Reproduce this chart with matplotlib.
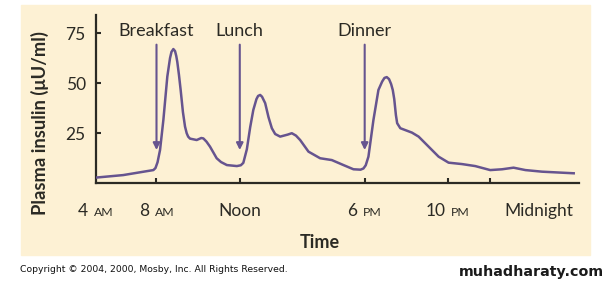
import matplotlib.pyplot as plt
from matplotlib.patches import Rectangle
from matplotlib.offsetbox import TextArea, HPacker, AnnotationBbox
import matplotlib.transforms as mtransforms

# sample data: plasma insulin over the day (hours, 24 = midnight)
hours = [5.04, 6.40, 7.85, 7.95, 8.05, 8.17, 8.33, 8.52, 8.65, 8.72, 8.81, 8.89,
         8.95, 9.00, 9.08, 9.16, 9.27, 9.37, 9.45, 9.52, 9.61, 9.93, 10.15, 10.25,
         10.40, 10.57, 10.89, 11.10, 11.38, 11.86, 12.05, 12.17, 12.34, 12.50,
         12.65, 12.80, 12.88, 12.98, 13.07, 13.22, 13.38, 13.54, 13.70, 13.94,
         14.30, 14.50, 14.70, 14.90, 15.30, 15.86, 16.42, 16.98, 17.46, 17.80,
         17.94, 18.05, 18.18, 18.42, 18.66, 18.84, 18.95, 19.06, 19.17, 19.27,
         19.35, 19.42, 19.50, 19.56, 19.71, 20.27, 20.59, 21.07, 21.55, 22.03,
         22.67, 23.31, 24.03, 24.60, 25.15, 25.72, 26.52, 28.04]
insulin = [2.8, 4.1, 6.6, 7.6, 10.5, 16.6, 31.6, 53.3, 62.5, 65.6, 67.0, 66.0,
           63.5, 60.5, 54.0, 46.6, 35.5, 28.3, 25.0, 23.3, 22.3, 21.6, 22.6, 22.4,
           20.8, 18.3, 12.5, 10.6, 9.1, 8.6, 9.0, 10.2, 17.0, 28.0,
           36.6, 42.0, 43.6, 44.1, 43.2, 40.0, 33.0, 27.5, 24.6, 23.3,
           24.3, 25.0, 23.8, 21.6, 15.8, 12.5, 11.6, 9.1, 7.0, 6.8,
           7.4, 9.0, 13.3, 31.6, 46.6, 50.8, 52.6, 53.0, 52.0, 49.5,
           46.5, 42.0, 34.0, 30.0, 27.5, 25.3, 23.3, 18.3, 13.3, 10.3,
           9.6, 8.6, 6.6, 7.0, 7.8, 6.6, 5.8, 5.0]

meals = ['Breakfast', 'Lunch', 'Dinner']
meal_hours = [8, 12, 18]

tick_hours = [8, 12, 18, 22, 24]
label_hours = [5.07, 8, 12, 18, 22, 26.36]
label_nums = ['4', '8', 'Noon', '6', '10', 'Midnight']
label_suffix = ['AM', 'AM', '', 'PM', 'PM', '']

y_ticks = [25, 50, 75]

line_col = '#66548f'
dark = '#2b2a24'
cream = '#fdf1d4'
font = ['Lato', 'DejaVu Sans']

fig = plt.figure(figsize=(6.1, 2.84), dpi=100)
# cream panel behind the chart
fig.patches.append(Rectangle((20.5 / 610, 29 / 284), 569.5 / 610, 250 / 284,
                             transform=fig.transFigure, color=cream, zorder=-10))

ax = fig.add_axes([95.5 / 610, 100.7 / 284, 483 / 610, 168.3 / 284])
ax.set_facecolor('none')
ax.plot(hours, insulin, color=line_col, lw=1.8, solid_joinstyle='round', zorder=3)
ax.set_xlim(5.07, 28.27)
ax.set_ylim(0, 84)

for s in ['top', 'right']:
    ax.spines[s].set_visible(False)
for s in ['left', 'bottom']:
    ax.spines[s].set_color(dark)
    ax.spines[s].set_linewidth(1.6)

# y ticks
ax.set_yticks(y_ticks)
ax.set_yticklabels([str(v) for v in y_ticks], family=font, fontsize=12.5, color=dark)
ax.tick_params(axis='y', direction='in', length=3.5, width=1.5, color=dark, pad=7)

# x tick marks, labels drawn separately
ax.set_xticks(tick_hours)
ax.set_xticklabels([])
ax.tick_params(axis='x', direction='in', length=3.8, width=1.5, color=dark)

trans = mtransforms.blended_transform_factory(ax.transData, ax.transAxes)
for h, num, suf in zip(label_hours, label_nums, label_suffix):
    parts = [TextArea(num, textprops=dict(family=font, fontsize=12.5, color=dark))]
    if suf:
        parts.append(TextArea(suf, textprops=dict(family=font, fontsize=8.8, color=dark)))
    box = HPacker(children=parts, align='baseline', pad=0, sep=4)
    ab = AnnotationBbox(box, (h, -0.165), xycoords=trans, box_alignment=(0.5, 0.5),
                        frameon=False, annotation_clip=False)
    ax.add_artist(ab)

# meal arrows
for m, h in zip(meals, meal_hours):
    ax.annotate('', xy=(h, 16.6), xytext=(h, 69.2),
                arrowprops=dict(arrowstyle='-|>', color=line_col, lw=1.5,
                                mutation_scale=10, shrinkA=0, shrinkB=0))
    ax.text(h, 73.6, m, ha='center', va='baseline', family=font, fontsize=13, color=dark)

fig.text(39.5 / 610, 1 - 123.5 / 284, 'Plasma insulin (\u03bcU/ml)', rotation=90,
         ha='center', va='center', family=font, fontsize=13.2, fontweight='bold', color=dark)
fig.text(320 / 610, 1 - 242 / 284, 'Time', ha='center', va='center',
         family=font, fontsize=13, fontweight='bold', color=dark)

fig.text(20.5 / 610, 1 - 270 / 284, 'Copyright \u00a9 2004, 2000, Mosby, Inc. All Rights Reserved.',
         ha='left', va='center', family='DejaVu Sans', fontsize=6.7, color='#111111')
fig.text(604 / 610, 1 - 272 / 284, 'muhadharaty.com', ha='right', va='center',
         family='DejaVu Sans', fontsize=10.3, fontweight='bold', color='#1a1a1a')

fig.savefig('out.png', dpi=100)
